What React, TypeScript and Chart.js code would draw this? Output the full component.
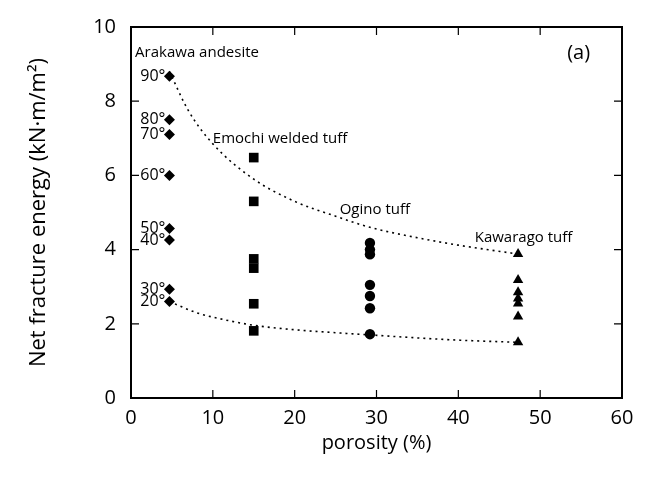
import React, { useEffect, useRef } from "react";
import { Chart, registerables } from "chart.js";

Chart.register(...registerables);

// ---- data ----
const xTicks = [0, 10, 20, 30, 40, 50, 60];
const yTicks = [0, 2, 4, 6, 8, 10];

const arakawaPorosity = 4.7;
const arakawaAngles = ["90°", "80°", "70°", "60°", "50°", "40°", "30°", "20°"];
const arakawaEnergy = [8.67, 7.5, 7.1, 6.0, 4.57, 4.26, 2.93, 2.6];

const emochiPorosity = 15.0;
const emochiEnergy = [6.48, 5.3, 3.75, 3.5, 2.54, 1.81];

const oginoPorosity = 29.2;
const oginoEnergy = [4.18, 4.0, 3.87, 3.05, 2.75, 2.42, 1.72];

const kawaragoPorosity = 47.3;
const kawaragoEnergy = [3.88, 3.18, 2.85, 2.68, 2.55, 2.2, 1.5];

// dotted envelope curves
const upperCurveX = [4.7, 7, 10, 15, 20, 25, 29.2, 35, 40, 47.3];
const upperCurveY = [8.8, 7.75, 6.85, 5.9, 5.3, 4.9, 4.6, 4.32, 4.12, 3.88];
const lowerCurveX = [4.7, 8, 10, 15, 20, 25, 29.2, 35, 40, 47.3];
const lowerCurveY = [2.6, 2.3, 2.18, 1.96, 1.84, 1.76, 1.7, 1.62, 1.56, 1.5];

// text annotations (data-space anchors)
const rockLabels = ["Arakawa andesite", "Emochi welded tuff", "Ogino tuff", "Kawarago tuff"];
const rockLabelX = [0.5, 10, 25.5, 42];
const rockLabelY = [9.3, 6.98, 5.08, 4.32];
const panelLabel = "(a)";
const panelLabelX = 53.3;
const panelLabelY = 9.3;

const FONT = "'Open Sans', 'DejaVu Sans', sans-serif";

const pts = (x: number, ys: number[]) => ys.map((y) => ({ x, y }));
const curve = (xs: number[], ys: number[]) => xs.map((x, i) => ({ x, y: ys[i] }));

const framePlugin = {
  id: "framePlugin",
  afterDraw(chart: any) {
    const { ctx, chartArea: a, scales } = chart;
    const xs = scales.x;
    const ys = scales.y;
    ctx.save();
    ctx.strokeStyle = "#000";
    ctx.lineWidth = 2;
    ctx.strokeRect(a.left, a.top, a.right - a.left, a.bottom - a.top);
    ctx.lineWidth = 1.2;
    const L = 8;
    ctx.beginPath();
    xTicks.forEach((v) => {
      const px = xs.getPixelForValue(v);
      if (v === xTicks[0] || v === xTicks[xTicks.length - 1]) return;
      ctx.moveTo(px, a.bottom);
      ctx.lineTo(px, a.bottom - L);
      ctx.moveTo(px, a.top);
      ctx.lineTo(px, a.top + L);
    });
    yTicks.forEach((v) => {
      const py = ys.getPixelForValue(v);
      if (v === yTicks[0] || v === yTicks[yTicks.length - 1]) return;
      ctx.moveTo(a.left, py);
      ctx.lineTo(a.left + L, py);
      ctx.moveTo(a.right, py);
      ctx.lineTo(a.right - L, py);
    });
    ctx.stroke();

    // annotations
    ctx.fillStyle = "#000";
    ctx.textBaseline = "middle";
    ctx.font = `15px ${FONT}`;
    ctx.textAlign = "left";
    rockLabels.forEach((t, i) => {
      ctx.fillText(t, xs.getPixelForValue(rockLabelX[i]), ys.getPixelForValue(rockLabelY[i]));
    });
    ctx.font = `16px ${FONT}`;
    ctx.textAlign = "right";
    const dx = xs.getPixelForValue(arakawaPorosity);
    arakawaAngles.forEach((t, i) => {
      ctx.fillText(t, dx - 4, ys.getPixelForValue(arakawaEnergy[i]));
    });
    ctx.font = `20px ${FONT}`;
    ctx.textAlign = "left";
    ctx.fillText(panelLabel, xs.getPixelForValue(panelLabelX), ys.getPixelForValue(panelLabelY));
    ctx.restore();
  },
};

export default function App() {
  const ref = useRef<HTMLCanvasElement | null>(null);
  useEffect(() => {
    if (!ref.current) return;
    const black = "#000";
    const chart = new Chart(ref.current, {
      type: "scatter",
      data: {
        datasets: [
          {
            label: "upper",
            data: curve(upperCurveX, upperCurveY),
            showLine: true,
            borderColor: black,
            borderWidth: 1.6,
            borderDash: [2, 4],
            pointRadius: 0,
            cubicInterpolationMode: "monotone",
          } as any,
          {
            label: "lower",
            data: curve(lowerCurveX, lowerCurveY),
            showLine: true,
            borderColor: black,
            borderWidth: 1.6,
            borderDash: [2, 4],
            pointRadius: 0,
            cubicInterpolationMode: "monotone",
          } as any,
          {
            label: "Arakawa andesite",
            data: pts(arakawaPorosity, arakawaEnergy),
            pointStyle: "rectRot",
            pointRadius: 5.5,
            backgroundColor: black,
            borderColor: black,
            borderWidth: 0,
          },
          {
            label: "Emochi welded tuff",
            data: pts(emochiPorosity, emochiEnergy),
            pointStyle: "rect",
            pointRadius: 6.8,
            backgroundColor: black,
            borderColor: black,
            borderWidth: 0,
          },
          {
            label: "Ogino tuff",
            data: pts(oginoPorosity, oginoEnergy),
            pointStyle: "circle",
            pointRadius: 5.2,
            backgroundColor: black,
            borderColor: black,
            borderWidth: 0,
          },
          {
            label: "Kawarago tuff",
            data: pts(kawaragoPorosity, kawaragoEnergy),
            pointStyle: "triangle",
            pointRadius: 6,
            backgroundColor: black,
            borderColor: black,
            borderWidth: 0,
          },
        ],
      },
      options: {
        animation: false,
        responsive: false,
        devicePixelRatio: 1,
        layout: { padding: { top: 23, right: 31, left: 0, bottom: 0 } },
        plugins: { legend: { display: false }, tooltip: { enabled: false } },
        scales: {
          x: {
            type: "linear",
            min: 0,
            max: 60,
            afterBuildTicks: (s: any) => {
              s.ticks = xTicks.map((v) => ({ value: v }));
            },
            afterFit: (s: any) => {
              s.height = 82;
            },
            grid: { display: false, drawTicks: false },
            border: { display: false },
            ticks: { color: black, font: { size: 20, family: FONT }, padding: 8 },
            title: {
              display: true,
              text: "porosity (%)",
              color: black,
              font: { size: 20, family: FONT },
              padding: { top: 0, bottom: 25 },
            },
          },
          y: {
            type: "linear",
            min: 0,
            max: 10,
            afterBuildTicks: (s: any) => {
              s.ticks = yTicks.map((v) => ({ value: v }));
            },
            afterFit: (s: any) => {
              s.width = 131;
            },
            grid: { display: false, drawTicks: false },
            border: { display: false },
            ticks: { color: black, font: { size: 20, family: FONT }, padding: 15 },
            title: {
              display: true,
              text: "Net fracture energy (kN·m/m²)",
              color: black,
              font: { size: 22, family: FONT },
              padding: { top: 26, bottom: 0 },
            },
          },
        },
      },
      plugins: [framePlugin],
    });
    return () => chart.destroy();
  }, []);
  return (
    <div style={{ position: "fixed", left: 0, top: 0, width: 653, height: 480, background: "#fff" }}>
      <canvas ref={ref} width={653} height={480} style={{ width: 653, height: 480 }} />
    </div>
  );
}
